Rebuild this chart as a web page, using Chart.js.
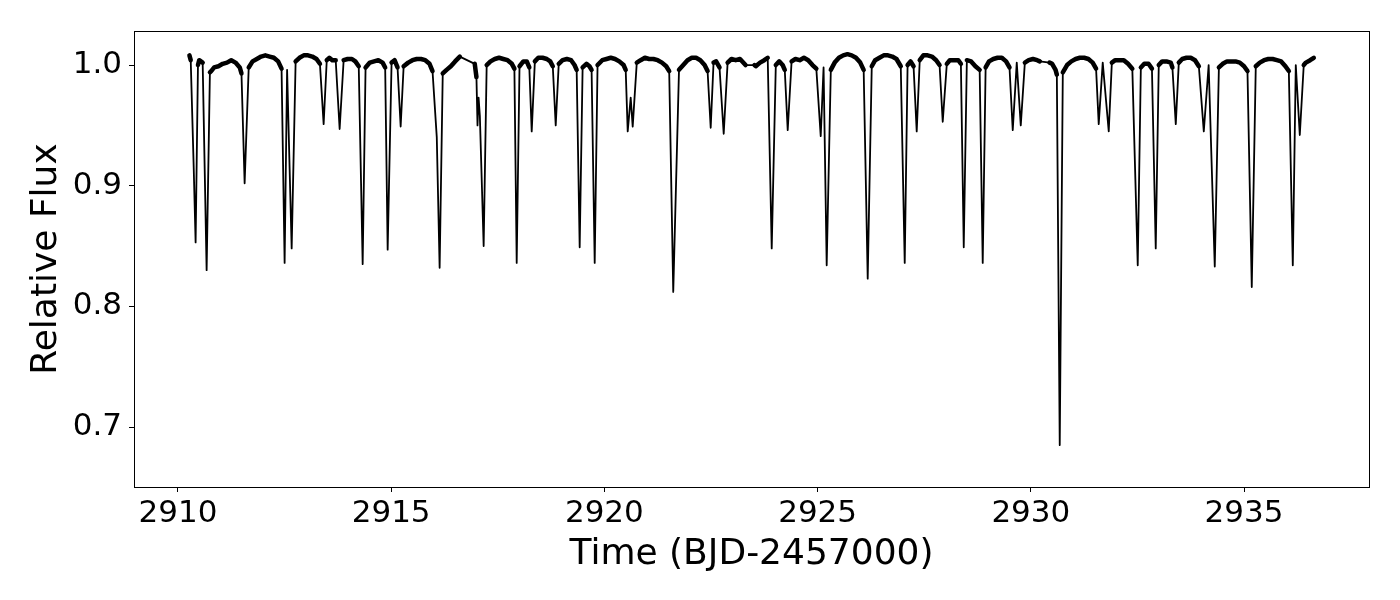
<!DOCTYPE html>
<html>
<head>
<meta charset="utf-8">
<script src="https://cdn.jsdelivr.net/npm/chart.js@4.4.1/dist/chart.umd.min.js"></script>
<style>
  html, body { margin: 0; padding: 0; background: #fff; }
  #wrap { width: 1400px; height: 600px; }
</style>
</head>
<body>
<div id="wrap"><canvas id="lightcurve" width="1400" height="600"></canvas></div>
<script>
// light curve (BJD-2457000, relative flux)
var time = [
  2910.27, 2910.30, 2910.37, 2910.415, 2910.47, 2910.50, 2910.58, 2910.673, 2910.75, 2910.78,
  2910.85, 2910.95, 2911.05, 2911.15, 2911.25, 2911.35, 2911.45, 2911.49, 2911.564, 2911.66,
  2911.75, 2911.85, 2911.95, 2912.05, 2912.15, 2912.25, 2912.35, 2912.43, 2912.502, 2912.56,
  2912.667, 2912.76, 2912.85, 2912.95, 2913.05, 2913.15, 2913.25, 2913.33, 2913.417, 2913.49,
  2913.55, 2913.62, 2913.70, 2913.792, 2913.886, 2913.98, 2914.08, 2914.16, 2914.24, 2914.332,
  2914.40, 2914.50, 2914.60, 2914.70, 2914.80, 2914.86, 2914.918, 2915.01, 2915.08, 2915.15,
  2915.223, 2915.293, 2915.40, 2915.50, 2915.60, 2915.70, 2915.80, 2915.90, 2915.97, 2916.07,
  2916.137, 2916.21, 2916.30, 2916.40, 2916.50, 2916.61, 2916.96, 2917.00, 2917.025, 2917.05,
  2917.08, 2917.169, 2917.24, 2917.33, 2917.43, 2917.53, 2917.63, 2917.73, 2917.83, 2917.89,
  2917.944, 2918.01, 2918.10, 2918.18, 2918.24, 2918.296, 2918.37, 2918.45, 2918.55, 2918.65,
  2918.73, 2918.79, 2918.859, 2918.93, 2919.02, 2919.12, 2919.22, 2919.30, 2919.35, 2919.421,
  2919.49, 2919.58, 2919.65, 2919.70, 2919.773, 2919.84, 2919.95, 2920.05, 2920.15, 2920.25,
  2920.35, 2920.45, 2920.50, 2920.547, 2920.617, 2920.664, 2920.76, 2920.85, 2920.95, 2921.05,
  2921.15, 2921.25, 2921.35, 2921.45, 2921.52, 2921.615, 2921.75, 2921.85, 2921.95, 2922.05,
  2922.15, 2922.25, 2922.35, 2922.42, 2922.493, 2922.56, 2922.62, 2922.70, 2922.798, 2922.89,
  2922.98, 2923.08, 2923.18, 2923.31, 2923.52, 2923.55, 2923.65, 2923.75, 2923.83, 2923.924,
  2924.02, 2924.10, 2924.18, 2924.23, 2924.299, 2924.39, 2924.48, 2924.58, 2924.68, 2924.78,
  2924.88, 2924.97, 2925.073, 2925.14, 2925.213, 2925.31, 2925.40, 2925.50, 2925.60, 2925.70,
  2925.80, 2925.90, 2926.00, 2926.08, 2926.175, 2926.27, 2926.35, 2926.45, 2926.55, 2926.65,
  2926.75, 2926.85, 2926.95, 2927.043, 2927.11, 2927.18, 2927.25, 2927.324, 2927.395, 2927.48,
  2927.58, 2927.68, 2927.78, 2927.86, 2927.934, 2928.03, 2928.10, 2928.20, 2928.30, 2928.36,
  2928.427, 2928.50, 2928.60, 2928.70, 2928.80, 2928.872, 2928.94, 2929.02, 2929.12, 2929.22,
  2929.32, 2929.42, 2929.50, 2929.576, 2929.67, 2929.764, 2929.86, 2929.95, 2930.05, 2930.15,
  2930.21, 2930.44, 2930.50, 2930.58, 2930.61, 2930.678, 2930.75, 2930.85, 2930.95, 2931.05,
  2931.15, 2931.25, 2931.35, 2931.45, 2931.53, 2931.592, 2931.686, 2931.827, 2931.90, 2931.98,
  2932.08, 2932.18, 2932.28, 2932.38, 2932.507, 2932.58, 2932.66, 2932.76, 2932.84, 2932.929,
  2933.00, 2933.08, 2933.18, 2933.28, 2933.32, 2933.399, 2933.47, 2933.55, 2933.65, 2933.75,
  2933.85, 2933.94, 2934.056, 2934.17, 2934.313, 2934.41, 2934.50, 2934.60, 2934.70, 2934.80,
  2934.90, 2935.00, 2935.08, 2935.181, 2935.275, 2935.37, 2935.47, 2935.57, 2935.67, 2935.77,
  2935.87, 2935.97, 2936.05, 2936.143, 2936.213, 2936.307, 2936.40, 2936.45, 2936.55, 2936.635
];
var flux = [
  1.008, 1.004, 0.915, 0.853, 1.000, 1.004, 1.002, 0.830, 0.994, 0.995,
  0.998, 0.999, 1.001, 1.002, 1.004, 1.002, 0.998, 0.993, 0.902, 0.998,
  1.003, 1.005, 1.007, 1.008, 1.007, 1.006, 1.003, 0.997, 0.836, 0.996,
  0.848, 1.003, 1.006, 1.008, 1.008, 1.007, 1.005, 1.001, 0.951, 1.004,
  1.006, 1.004, 1.004, 0.947, 1.004, 1.005, 1.005, 1.003, 0.999, 0.835,
  0.998, 1.002, 1.003, 1.004, 1.002, 0.998, 0.847, 1.002, 1.004, 0.998,
  0.949, 0.999, 1.002, 1.004, 1.005, 1.005, 1.004, 1.001, 0.995, 0.940,
  0.832, 0.993, 0.996, 0.999, 1.003, 1.007, 1.001, 0.990, 0.950, 0.973,
  0.958, 0.850, 1.000, 1.003, 1.005, 1.006, 1.005, 1.004, 1.001, 0.997,
  0.836, 0.999, 1.003, 1.003, 0.998, 0.945, 1.003, 1.006, 1.006, 1.005,
  1.003, 0.999, 0.950, 1.001, 1.004, 1.005, 1.004, 1.000, 0.996, 0.849,
  0.998, 1.001, 0.999, 0.996, 0.836, 1.000, 1.004, 1.005, 1.006, 1.005,
  1.003, 1.000, 0.996, 0.945, 0.973, 0.949, 1.002, 1.004, 1.006, 1.005,
  1.005, 1.004, 1.002, 0.999, 0.995, 0.812, 0.996, 1.000, 1.004, 1.006,
  1.006, 1.004, 1.000, 0.995, 0.948, 1.002, 1.003, 0.998, 0.943, 1.002,
  1.005, 1.004, 1.005, 1.000, 1.000, 0.999, 1.002, 1.004, 1.006, 0.848,
  1.000, 1.003, 1.000, 0.996, 0.946, 1.003, 1.005, 1.004, 1.006, 1.004,
  1.000, 0.997, 0.941, 0.998, 0.834, 0.996, 1.002, 1.006, 1.008, 1.009,
  1.008, 1.006, 1.002, 0.996, 0.823, 0.999, 1.004, 1.006, 1.008, 1.008,
  1.007, 1.005, 0.999, 0.836, 1.000, 1.003, 0.999, 0.945, 1.004, 1.008,
  1.008, 1.007, 1.004, 1.000, 0.953, 1.001, 1.004, 1.004, 1.004, 1.001,
  0.849, 1.004, 1.003, 0.999, 0.996, 0.836, 0.998, 1.003, 1.005, 1.006,
  1.006, 1.003, 0.998, 0.946, 1.002, 0.950, 1.002, 1.004, 1.005, 1.004,
  1.003, 1.002, 1.001, 0.996, 0.992, 0.685, 0.994, 1.000, 1.003, 1.005,
  1.006, 1.006, 1.005, 1.002, 0.997, 0.951, 1.002, 0.945, 1.002, 1.004,
  1.004, 1.004, 1.001, 0.997, 0.834, 0.998, 1.001, 1.001, 0.997, 0.848,
  1.000, 1.003, 1.003, 1.002, 0.998, 0.951, 1.002, 1.005, 1.006, 1.006,
  1.004, 0.999, 0.945, 1.000, 0.833, 0.998, 1.001, 1.003, 1.003, 1.003,
  1.002, 0.999, 0.995, 0.816, 0.999, 1.002, 1.004, 1.005, 1.005, 1.004,
  1.003, 0.999, 0.995, 0.834, 1.000, 0.942, 1.000, 1.002, 1.004, 1.006
];
var xTickVals = [2910, 2915, 2920, 2925, 2930, 2935];
var yTickVals = [0.7, 0.8, 0.9, 1.0];
var xLabel = 'Time (BJD-2457000)';
var yLabel = 'Relative Flux';

var points = time.map(function (t, i) { return { x: t, y: flux[i] }; });

// closed frame around the plot, like matplotlib spines
var frame = {
  id: 'frame',
  afterDraw: function (chart) {
    var a = chart.chartArea, ctx = chart.ctx;
    ctx.save();
    ctx.strokeStyle = '#000';
    ctx.lineWidth = 1;
    ctx.strokeRect(Math.round(a.left) + 0.5, Math.round(a.top) + 0.5,
      Math.round(a.right - a.left), Math.round(a.bottom - a.top));
    ctx.restore();
  }
};

// out-of-eclipse stretches are noisy in the original, so draw them as a thicker band
function segWidth(ctx) {
  var dx = ctx.p1.parsed.x - ctx.p0.parsed.x;
  if (ctx.p0.parsed.y > 0.985 && ctx.p1.parsed.y > 0.985 && dx < 0.15) return 4.5;
  return 1.8;
}

var font = 'DejaVu Sans';

new Chart(document.getElementById('lightcurve'), {
  type: 'line',
  data: {
    datasets: [{
      data: points,
      borderColor: '#000',
      borderWidth: 1.8,
      borderJoinStyle: 'round',
      borderCapStyle: 'round',
      pointRadius: 0,
      fill: false,
      tension: 0,
      segment: { borderWidth: segWidth }
    }]
  },
  options: {
    responsive: false,
    animation: false,
    devicePixelRatio: 1,
    layout: { padding: { top: 31, right: 31, left: 0, bottom: 0 } },
    plugins: { legend: { display: false }, tooltip: { enabled: false } },
    scales: {
      x: {
        type: 'linear',
        min: 2908.97,
        max: 2937.93,
        afterBuildTicks: function (s) { s.ticks = xTickVals.map(function (v) { return { value: v }; }); },
        afterFit: function (s) { s.height = 113; },
        grid: { drawOnChartArea: false, drawTicks: true, tickLength: 5, color: '#000' },
        border: { display: true, color: '#000', width: 1 },
        ticks: { color: '#000', font: { family: font, size: 31 }, padding: 3, maxRotation: 0,
          callback: function (v) { return String(v); } },
        title: { display: true, text: xLabel, color: '#000', font: { family: font, size: 36 },
          padding: { top: 0, bottom: 24 } }
      },
      y: {
        min: 0.6503,
        max: 1.0282,
        afterBuildTicks: function (s) { s.ticks = yTickVals.map(function (v) { return { value: v }; }); },
        afterFit: function (s) { s.width = 134; },
        grid: { drawOnChartArea: false, drawTicks: true, tickLength: 5, color: '#000' },
        border: { display: true, color: '#000', width: 1 },
        ticks: { color: '#000', font: { family: font, size: 31 }, padding: 7,
          callback: function (v) { return v.toFixed(1); } },
        title: { display: true, text: yLabel, color: '#000', font: { family: font, size: 36 },
          padding: { top: 25, bottom: 0 } }
      }
    }
  },
  plugins: [frame]
});
</script>
</body>
</html>
